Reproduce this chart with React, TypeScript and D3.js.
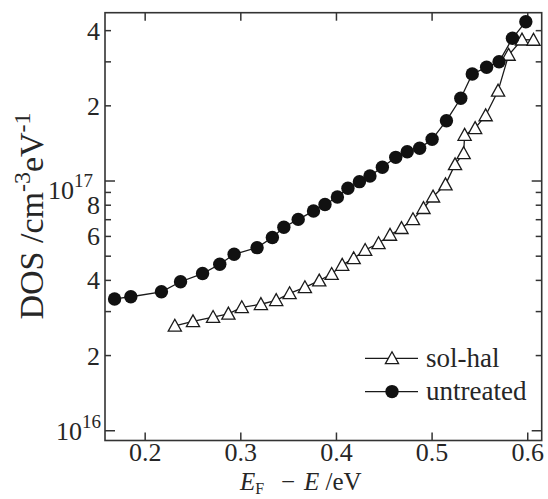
import React from "react";
import * as d3 from "d3";

const untreatedX = [0.168, 0.185, 0.217, 0.237, 0.26, 0.278, 0.293, 0.317, 0.333, 0.345, 0.36, 0.376, 0.388, 0.401, 0.412, 0.424, 0.435, 0.448, 0.462, 0.474, 0.487, 0.5, 0.515, 0.53, 0.542, 0.557, 0.57, 0.584, 0.598];
const untreatedY = [3.37, 3.44, 3.6, 3.95, 4.26, 4.64, 5.09, 5.41, 5.94, 6.53, 7.02, 7.58, 8.05, 8.63, 9.35, 9.94, 10.47, 11.35, 12.44, 13.1, 13.52, 14.69, 17.44, 21.44, 26.82, 28.53, 30.04, 37.27, 43.45].map((v) => v * 1e16);

const solhalX = [0.231, 0.25, 0.271, 0.287, 0.301, 0.321, 0.337, 0.351, 0.367, 0.382, 0.395, 0.406, 0.418, 0.43, 0.444, 0.456, 0.468, 0.48, 0.491, 0.501, 0.514, 0.524, 0.533, 0.534, 0.545, 0.556, 0.569, 0.58, 0.594, 0.606];
const solhalY = [2.63, 2.74, 2.85, 2.94, 3.12, 3.21, 3.33, 3.55, 3.75, 3.99, 4.24, 4.61, 4.9, 5.29, 5.63, 6.08, 6.47, 7.02, 7.78, 8.65, 9.68, 11.65, 12.91, 15.28, 16.26, 18.3, 22.97, 31.96, 36.8, 36.7].map((v) => v * 1e16);

const xTicks = [0.2, 0.3, 0.4, 0.5, 0.6];
const xTickLabels = ["0.2", "0.3", "0.4", "0.5", "0.6"];
const yMajorTicks = [1e16, 1e17];
const yMinorTicks = [2e16, 3e16, 4e16, 5e16, 6e16, 7e16, 8e16, 9e16, 2e17, 3e17, 4e17];
const yDigitLabels = [
  { v: 2e16, t: "2" },
  { v: 4e16, t: "4" },
  { v: 6e16, t: "6" },
  { v: 8e16, t: "8" },
  { v: 2e17, t: "2" },
  { v: 4e17, t: "4" },
];
const yPowLabels = [
  { v: 1e16, exp: "16" },
  { v: 1e17, exp: "17" },
];
const seriesNames = ["sol-hal", "untreated"];

const W = 548;
const H = 499;
const left = 105;
const right = 541.7;
const top = 12.7;
const bottom = 440.5;

const FONT = "'Liberation Serif', serif";
const INK = "#1a1a1a";
const TXT = "#262626";

const x = d3.scaleLinear().domain([0.158, 0.6146]).range([left, right]);
const y = d3.scaleLog().domain([9.14e15, 4.72e17]).range([bottom, top]);

function Triangle({ cx, cy }: { cx: number; cy: number }) {
  const s = 6.6;
  const d = `M${cx},${cy - s}L${cx + s},${cy + s * 0.8}L${cx - s},${cy + s * 0.8}Z`;
  return <path d={d} fill="#fff" stroke={INK} strokeWidth={1.3} />;
}

export default function App() {
  const line = d3
    .line<[number, number]>()
    .x((d) => x(d[0]))
    .y((d) => y(d[1]));
  const unt: [number, number][] = untreatedX.map((v, i) => [v, untreatedY[i]]);
  const sol: [number, number][] = solhalX.map((v, i) => [v, solhalY[i]]);

  const legY1 = 358.4;
  const legY2 = 391.6;

  return (
    <svg
      width={W}
      height={H}
      style={{ position: "absolute", left: 0, top: 0, background: "#fff", fontFamily: FONT }}
    >
      <rect x={0} y={0} width={W} height={H} fill="#fff" />
      <rect x={left} y={top} width={right - left} height={bottom - top} fill="none" stroke="#333" strokeWidth={1.6} />
      {xTicks.map((t, i) => (
        <g key={"xt" + i}>
          <line x1={x(t)} x2={x(t)} y1={bottom} y2={bottom - 8} stroke="#333" strokeWidth={1.5} />
          <line x1={x(t)} x2={x(t)} y1={top} y2={top + 8} stroke="#333" strokeWidth={1.5} />
          <text x={x(t)} y={461} fontSize={26} textAnchor="middle" fill={TXT}>
            {xTickLabels[i]}
          </text>
        </g>
      ))}
      {yMajorTicks.map((t, i) => (
        <g key={"ymj" + i}>
          <line x1={left} x2={left + 10} y1={y(t)} y2={y(t)} stroke="#333" strokeWidth={1.5} />
          <line x1={right} x2={right - 10} y1={y(t)} y2={y(t)} stroke="#333" strokeWidth={1.5} />
        </g>
      ))}
      {yMinorTicks.map((t, i) => (
        <g key={"ymn" + i}>
          <line x1={left} x2={left + 6} y1={y(t)} y2={y(t)} stroke="#333" strokeWidth={1.5} />
          <line x1={right} x2={right - 6} y1={y(t)} y2={y(t)} stroke="#333" strokeWidth={1.5} />
        </g>
      ))}
      {yDigitLabels.map((l, i) => (
        <text key={"yl" + i} x={100} y={y(l.v) + 9} fontSize={26} textAnchor="end" fill={TXT}>
          {l.t}
        </text>
      ))}
      {yPowLabels.map((l, i) => (
        <text key={"yp" + i} x={l.exp === "17" ? 93 : 101} y={y(l.v) + (l.exp === "17" ? 18 : 9)} fontSize={26} textAnchor="end" fill={TXT}>
          10
          <tspan fontSize={19} dy={-12}>
            {l.exp}
          </tspan>
        </text>
      ))}
      <text transform="translate(43,216) rotate(-90)" fontSize={34} textAnchor="middle" fill={TXT}>
        DOS /cm
        <tspan fontSize={24} dy={-13}>-3</tspan>
        <tspan dy={13}>eV</tspan>
        <tspan fontSize={24} dy={-13}>-1</tspan>
      </text>
      <text x={240} y={490} fontSize={25} fill={TXT}>
        <tspan fontStyle="italic">E</tspan>
        <tspan fontSize={16} dy={4}>F</tspan>
        <tspan dy={-4} x={281}>−</tspan>
        <tspan fontStyle="italic" x={304}>E</tspan>
        <tspan> /eV</tspan>
      </text>
      <path d={line(sol) || ""} fill="none" stroke={INK} strokeWidth={1.3} />
      <path d={line(unt) || ""} fill="none" stroke={INK} strokeWidth={1.3} />
      {sol.map((d, i) => (
        <Triangle key={"s" + i} cx={x(d[0])} cy={y(d[1])} />
      ))}
      {unt.map((d, i) => (
        <circle key={"u" + i} cx={x(d[0])} cy={y(d[1])} r={6.7} fill="#111" />
      ))}
      <line x1={365} x2={418} y1={legY1} y2={legY1} stroke={INK} strokeWidth={1.3} />
      <Triangle cx={392} cy={legY1} />
      <text x={426} y={367} fontSize={27} fill={TXT}>
        {seriesNames[0]}
      </text>
      <line x1={365} x2={418} y1={legY2} y2={legY2} stroke={INK} strokeWidth={1.3} />
      <circle cx={392} cy={legY2} r={6.7} fill="#111" />
      <text x={426} y={400} fontSize={27} fill={TXT}>
        {seriesNames[1]}
      </text>
    </svg>
  );
}
